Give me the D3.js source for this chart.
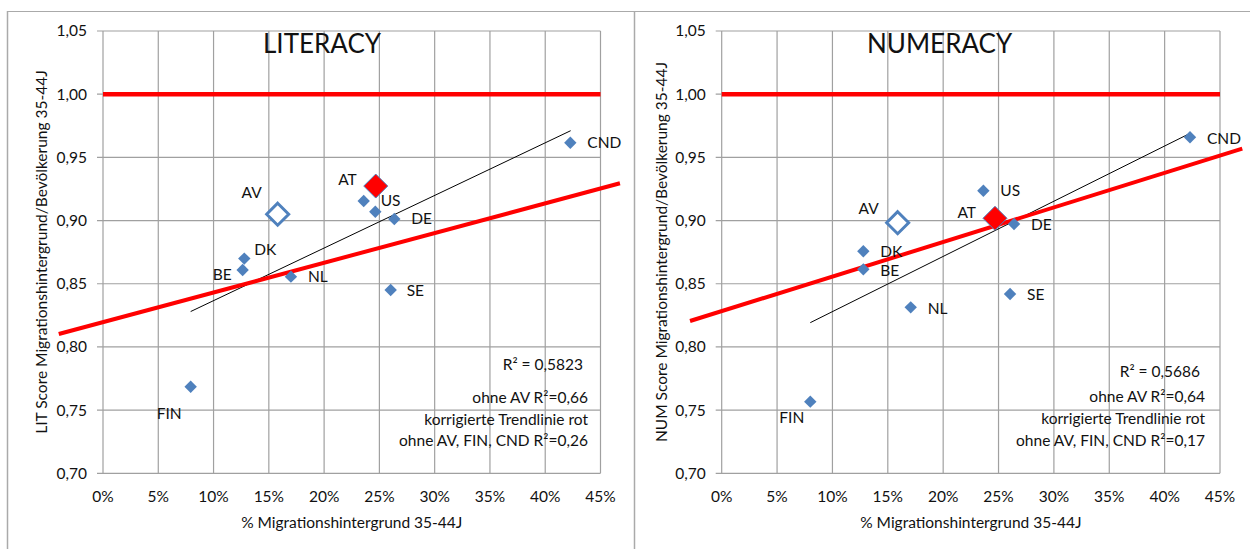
<!doctype html>
<html>
  <head>
    <meta charset='utf-8'>
    <style>
      body { margin: 0; background: #fff; }
      text { font-family: Lato, 'Open Sans', sans-serif; fill: #111; }
    </style>
  </head>
  <body>
    <svg id='chart0'></svg>

    <script src='https://d3js.org/d3.v7.min.js'></script>
    <script>
      // countries shown in both panels, x = % Migrationshintergrund 35-44J
      const countries = ['CND', 'US', 'AT', 'DE', 'SE', 'NL', 'BE', 'DK', 'FIN'];
      const shown_labels = ['CND', 'US', '', 'DE', 'SE', 'NL', 'BE', 'DK', 'FIN'];

      const lit_share = [42.27, 23.58, 24.63, 26.35, 26.02, 17.0, 12.63, 12.78, 7.93];
      const lit_ratio = [0.9616, 0.9155, 0.907, 0.9012, 0.845, 0.8556, 0.8609, 0.8699, 0.7685];

      const num_share = [42.29, 23.63, 24.68, 26.4, 26.04, 17.07, 12.79, 12.79, 8.0];
      const num_ratio = [0.9659, 0.9236, 0.9018, 0.8973, 0.8419, 0.8313, 0.8614, 0.8757, 0.7567];

      // average (AV, hollow) and Austria highlight (AT, red)
      const lit_av = [15.8, 0.905];
      const lit_at = [24.67, 0.9273];
      const num_av = [15.89, 0.8983];
      const num_at = [24.68, 0.9018];

      // trend lines as [[x0, y0], [x1, y1]]
      const lit_trend = [[7.93, 0.828], [42.3, 0.9711]];
      const lit_red_trend = [[-4.0, 0.8102], [46.76, 0.9295]];
      const num_trend = [[8.0, 0.8192], [42.29, 0.969]];
      const num_red_trend = [[-2.86, 0.8205], [47.01, 0.9569]];

      const x_ticks = [0, 5, 10, 15, 20, 25, 30, 35, 40, 45];
      const y_ticks = [0.70, 0.75, 0.80, 0.85, 0.90, 0.95, 1.00, 1.05];
      const reference_level = 1.0;

      const lit_notes = ['R² = 0,5823', 'ohne AV R²=0,66', 'korrigierte Trendlinie rot', 'ohne AV, FIN, CND R²=0,26'];
      const num_notes = ['R² = 0,5686', 'ohne AV R²=0,64', 'korrigierte Trendlinie rot', 'ohne AV, FIN, CND R²=0,17'];

      // label offsets (px) relative to each point: [dx, dy, anchor]
      const lit_label_pos = [[17, 0, 'start'], [17, 0, 'start'], [0, 0, 'start'], [17, 0, 'start'], [16, 1, 'start'],
                             [17, 0, 'start'], [-11, 5, 'end'], [10, -9, 'start'], [-9, 27, 'end']];
      const num_label_pos = [[17, 1, 'start'], [17, 0, 'start'], [0, 0, 'start'], [17, 1, 'start'], [17, 1, 'start'],
                             [17, 1, 'start'], [17, 1, 'start'], [17, 0, 'start'], [-6, 16, 'end']];

      const width = 1250;
      const height = 549;
      const blue = '#4f81bd';
      const grid = '#a0a0a0';
      const fs = 15.5;

      const svg = d3.select('svg#chart0')
                    .attr('width', width)
                    .attr('height', height)
                    .style('display', 'block');

      // chart frames
      svg.append('line').attr('x1', 7).attr('x2', width).attr('y1', 11.5).attr('y2', 11.5)
         .attr('stroke', '#aaa').attr('stroke-width', 1.2);
      svg.append('line').attr('x1', 7.5).attr('x2', 7.5).attr('y1', 11).attr('y2', height)
         .attr('stroke', '#aaa').attr('stroke-width', 1.5);
      svg.append('line').attr('x1', 634.5).attr('x2', 634.5).attr('y1', 11).attr('y2', height)
         .attr('stroke', '#aaa').attr('stroke-width', 1.5);

      const diamond = r => `M0,${-r}L${r},0L0,${r}L${-r},0Z`;

      function draw_panel(p) {
          const x = d3.scaleLinear().domain([0, 45]).range([p.left, p.right]);
          const y = d3.scaleLinear().domain([0.70, 1.05]).range([473.3, 31]);
          const g = svg.append('g');

          // grid
          g.selectAll('line.vg').data(x_ticks).join('line')
           .attr('x1', d => x(d)).attr('x2', d => x(d))
           .attr('y1', y(1.05)).attr('y2', y(0.70))
           .attr('stroke', grid).attr('stroke-width', 1.2);
          g.selectAll('line.hg').data(y_ticks).join('line')
           .attr('x1', x(0) - 6).attr('x2', x(45))
           .attr('y1', d => y(d)).attr('y2', d => y(d))
           .attr('stroke', grid).attr('stroke-width', 1.2);

          // tick labels
          g.selectAll('text.yt').data(y_ticks).join('text')
           .attr('x', x(0) - 16).attr('y', d => y(d)).attr('dy', '0.35em')
           .attr('text-anchor', 'end').attr('font-size', fs)
           .text(d => d3.format('.2f')(d).replace('.', ','));
          g.selectAll('text.xt').data(x_ticks).join('text')
           .attr('x', d => x(d)).attr('y', 497).attr('dy', '0.35em')
           .attr('text-anchor', 'middle').attr('font-size', fs)
           .text(d => d + '%');

          // axis titles
          g.append('text').attr('x', (x(0) + x(45)) / 2).attr('y', 523).attr('dy', '0.35em')
           .attr('text-anchor', 'middle').attr('font-size', fs)
           .text('% Migrationshintergrund 35-44J');
          g.append('text')
           .attr('transform', `translate(${p.ytitle_x},252) rotate(-90)`)
           .attr('dy', '0.35em').attr('text-anchor', 'middle').attr('font-size', fs)
           .text(p.ytitle);

          // panel title
          g.append('text').attr('x', p.title_x).attr('y', 44).attr('dy', '0.36em')
           .attr('font-size', 26).text(p.title);

          // reference line at 1,00
          g.append('line').attr('x1', x(0)).attr('x2', x(45))
           .attr('y1', y(reference_level)).attr('y2', y(reference_level))
           .attr('stroke', '#ff0000').attr('stroke-width', 4.5);

          const line = d3.line().x(d => x(d[0])).y(d => y(d[1]));
          g.append('path').attr('d', line(p.trend))
           .attr('stroke', '#000').attr('stroke-width', 1).attr('fill', 'none');
          g.append('path').attr('d', line(p.red_trend))
           .attr('stroke', '#ff0000').attr('stroke-width', 4).attr('fill', 'none');

          // points
          const pts = p.share.map((v, i) => [v, p.ratio[i], i]);
          g.selectAll('path.pt').data(pts).join('path')
           .attr('d', diamond(6.2))
           .attr('transform', d => `translate(${x(d[0])},${y(d[1])})`)
           .attr('fill', blue);

          g.append('path').attr('d', diamond(11))
           .attr('transform', `translate(${x(p.av[0])},${y(p.av[1])})`)
           .attr('fill', '#fff').attr('stroke', blue).attr('stroke-width', 3);
          g.append('path').attr('d', diamond(12))
           .attr('transform', `translate(${x(p.at[0])},${y(p.at[1])})`)
           .attr('fill', '#ff0000').attr('stroke', blue).attr('stroke-width', 1);

          // labels
          g.selectAll('text.lbl').data(pts.filter(d => shown_labels[d[2]] !== '')).join('text')
           .attr('x', d => x(d[0]) + p.label_pos[d[2]][0])
           .attr('y', d => y(d[1]) + p.label_pos[d[2]][1])
           .attr('dy', '0.35em').attr('text-anchor', d => p.label_pos[d[2]][2])
           .attr('font-size', fs)
           .text(d => shown_labels[d[2]]);
          g.append('text').attr('x', x(p.at[0]) - 19).attr('y', y(p.at[1]) - 6)
           .attr('dy', '0.35em').attr('text-anchor', 'end').attr('font-size', fs).text('AT');
          g.append('text').attr('x', x(p.av[0]) + p.av_label[0]).attr('y', y(p.av[1]) + p.av_label[1])
           .attr('dy', '0.35em').attr('text-anchor', 'end').attr('font-size', fs).text('AV');

          // notes
          g.selectAll('text.note').data(p.notes).join('text')
           .attr('x', (d, i) => i === 0 ? p.note_x - 5 : p.note_x)
           .attr('y', (d, i) => p.note_y[i]).attr('dy', '0.35em')
           .attr('text-anchor', 'end').attr('font-size', fs)
           .text(d => d);
      }

      draw_panel({
          left: 103, right: 600.5, title: 'LITERACY', title_x: 263, ytitle_x: 42,
          ytitle: 'LIT Score Migrationshintergrund/Bevölkerung 35-44J',
          share: lit_share, ratio: lit_ratio, av: lit_av, at: lit_at,
          trend: lit_trend, red_trend: lit_red_trend, label_pos: lit_label_pos,
          av_label: [-16, -22], notes: lit_notes, note_x: 588, note_y: [365, 398, 420, 441]
      });
      draw_panel({
          left: 721.7, right: 1220, title: 'NUMERACY', title_x: 867, ytitle_x: 662,
          ytitle: 'NUM Score Migrationshintergrund/Bevölkerung 35-44J',
          share: num_share, ratio: num_ratio, av: num_av, at: num_at,
          trend: num_trend, red_trend: num_red_trend, label_pos: num_label_pos,
          av_label: [-19, -14], notes: num_notes, note_x: 1205, note_y: [372, 397, 419, 441]
      });
    </script>
  </body>
</html>
